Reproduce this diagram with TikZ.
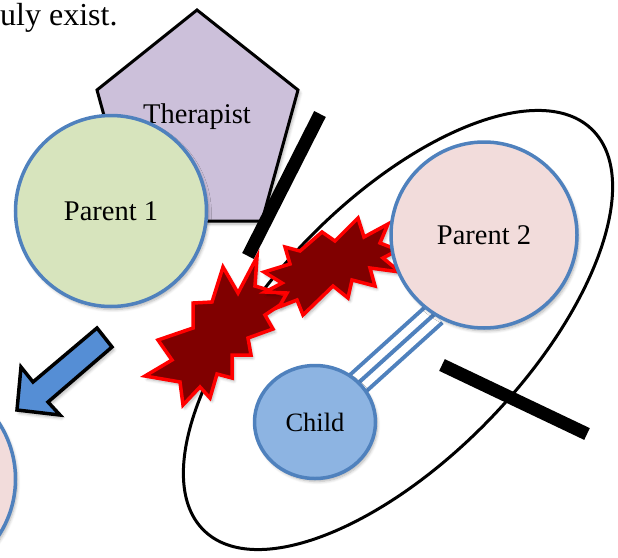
\documentclass[tikz,border=0pt]{standalone}
\usepackage{fontspec}
\setmainfont{Liberation Serif}
\usetikzlibrary{shapes.geometric,shadows.blur}
\definecolor{pgreen}{HTML}{D7E4BD}
\definecolor{ppink}{HTML}{F2DCDB}
\definecolor{pblue}{HTML}{4F81BD}
\definecolor{cblue}{HTML}{8DB4E2}
\definecolor{lav}{HTML}{CCC0DA}
\definecolor{arrblue}{HTML}{558ED5}
\definecolor{boomfill}{HTML}{800000}
\begin{document}
\begin{tikzpicture}[x=1pt,y=-1pt,
  shd/.style={blur shadow={shadow xshift=2pt,shadow yshift=-3pt,shadow blur radius=3pt,shadow opacity=30,shadow blur steps=6}},
  lbl/.style={font=\fontsize{28.5}{34}\selectfont,text=black},
  person/.style={circle,draw=pblue,line width=3.5pt,inner sep=0pt,lbl,shd},
  childshape/.style={ellipse,minimum width=121pt,minimum height=113pt,inner sep=0pt},
  boom/.style={fill=boomfill,draw=red,line width=3.5pt,line join=miter,miter limit=10,shd},
  barline/.style={line width=13pt,black},
  tripleline/.style={draw=pblue,line width=27pt,
     postaction={draw=white,line width=19pt},
     postaction={draw=pblue,line width=4pt}},
  blockarrow/.style={fill=arrblue,draw=black,line width=3.5pt,line join=miter,shd}]
\useasboundingbox (0,0) rectangle (618,557);
\clip (0,0) rectangle (618,557);

% top text
\node[anchor=base west,inner sep=0pt,font=\fontsize{32}{36}\selectfont] (toptext) at (0,25) {uly exist.};

% therapist pentagon
\draw[fill=lav,line width=3pt,line join=miter,shd] (197,10) -- (298,90) -- (262,221) -- (133,221) -- (97,90) -- cycle;
\node[lbl] (therapist) at (197,117) {Therapist};

% parent 1
\node[person,fill=pgreen,minimum size=191pt] (parent1) at (111,211) {Parent 1};

% bar near therapist
\coordinate (b1a) at (320,114);
\coordinate (b1b) at (248,256);
\draw[barline] (b1a) -- (b1b);

% big ellipse
\draw[line width=3pt,rotate around={46:(398,330)}] (398,330) ellipse [x radius=279pt, y radius=128pt];

% explosion 1
\draw[boom] (145,376) -- (172,360) -- (158,340) -- (193,328) -- (193,303) -- (212,302) -- (223,267) -- (238,293) -- (257,257) -- (255,286) -- (292,297) -- (265,315) -- (273,329) -- (248,338) -- (251,355) -- (232,355) -- (232,378) -- (217,374) -- (210,398) -- (200,387) -- (183,405) -- (180,382) -- cycle;

% explosion 2
\draw[boom] (285,247) -- (300,251) -- (322,232) -- (335,241) -- (358,218) -- (364,237) -- (388,224) -- (380,243) -- (398,250) -- (383,258) -- (400,272) -- (370,268) -- (375,286) -- (352,280) -- (348,298) -- (333,286) -- (303,315) -- (297,300) -- (279,307) -- (287,293) -- (265,292) -- (282,283) -- (264,272) -- (290,264) -- cycle;

% parent 2 and child: places, connector, then faces
\path (484,235) node[circle,minimum size=186pt,inner sep=0pt] (parent2) {};
\path (315,422) node[childshape] (child) {};
\draw[tripleline] (child.center) -- (parent2.238);
\node[person,fill=ppink,minimum size=186pt] (parent2face) at (parent2.center) {Parent 2};
\node[childshape,draw=pblue,line width=3.5pt,fill=cblue,font=\fontsize{26.5}{30}\selectfont,shd] (childface) at (child.center) {Child};

% bar across ellipse
\coordinate (b2a) at (442,365);
\coordinate (b2b) at (587,434);
\draw[barline] (b2a) -- (b2b);

% block arrow
\draw[blockarrow] (97,328) -- (112,347) -- (48,402) -- (60,415) -- (17,410) -- (21,367) -- (33,382) -- cycle;

% partial circle at lower left
\node[person,fill=ppink,minimum size=207pt] (parent3) at (-88,479) {};
\end{tikzpicture}
\end{document}
